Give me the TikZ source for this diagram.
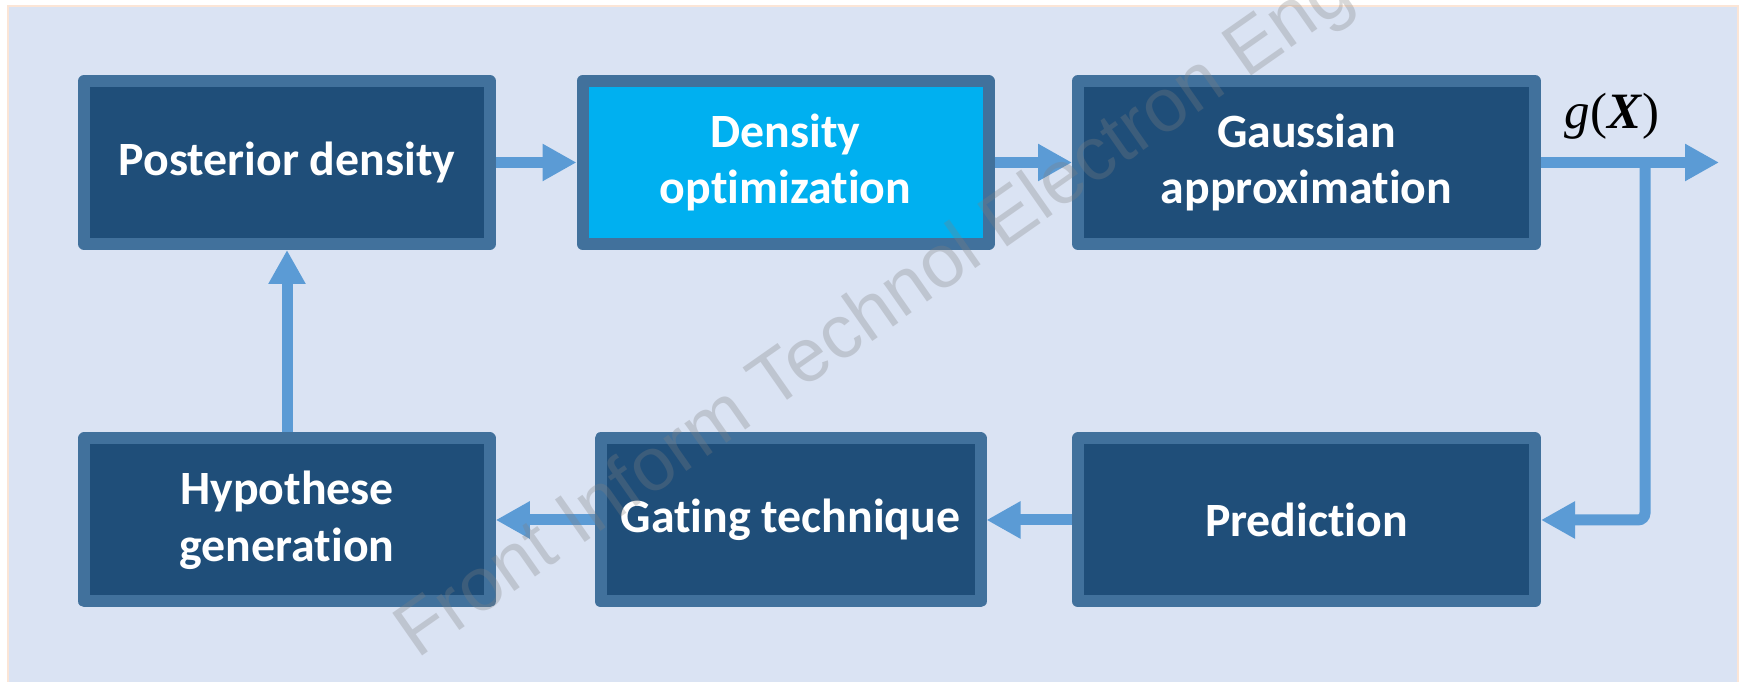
\documentclass[tikz,border=0pt]{standalone}
\usepackage{fontspec}
\setmainfont{Carlito}[Ligatures=NoCommon]
\newfontfamily\wmfont{Liberation Sans}
\newfontfamily\gxfont{Liberation Serif}
\usepackage{xcolor}
\usetikzlibrary{arrows.meta}

\definecolor{panelbg}{HTML}{DAE3F3}
\definecolor{panelrim}{HTML}{FBE5D6}
\definecolor{boxfill}{HTML}{1F4E79}
\definecolor{boxrim}{HTML}{41719C}
\definecolor{optfill}{HTML}{00B0F0}
\definecolor{flowcol}{HTML}{5B9BD5}

\tikzset{
	blk/.style={draw=boxrim, fill=boxfill, line width=0.12cm, line join=round, text=white,
		font=\fontsize{13.6}{16.2}\selectfont\bfseries, align=center, minimum height=1.63cm, inner sep=0pt},
	flow/.style={draw=flowcol, line width=0.11cm, -{Triangle[length=0.34cm, width=0.35cm]}}
}

\begin{document}
\begin{tikzpicture}
		\clip (0,0) rectangle (17.45,6.82);
		\fill[white] (0,0) rectangle (17.45,6.82);
		\draw[panelrim, fill=panelbg, line width=0.6pt] (0.08,-0.1) rectangle (17.38,6.76);
%		\draw[step=0.5cm, thin] (0,0) grid (17.45,6.82);
		\node[blk, minimum width=4.055cm] (post) at (2.87,5.195) {Posterior density};
		\node[blk, fill=optfill, minimum width=4.06cm] (dens) at (7.855,5.195) {Density\\optimization};
		\node[blk, minimum width=4.57cm] (gauss) at (13.065,5.195) {Gaussian\\approximation};
		\node[blk, minimum width=4.055cm] (hyp) at (2.87,1.62) {Hypothese\\generation};
		\node[blk, minimum width=3.80cm] (gate) at (7.905,1.62) {Gating technique};
		\node[blk, minimum width=4.57cm] (pred) at (13.065,1.62) {Prediction};
		\coordinate (out) at (17.19,5.195);
		\coordinate (split) at (16.45,5.195);
		\draw[flow] (post) -- (dens);
		\draw[flow] (dens) -- (gauss);
		\draw[flow] (gauss) -- (out);
		\draw[flow, rounded corners=2pt] (split) |- (pred);
		\draw[flow] (pred) -- (gate);
		\draw[flow] (gate) -- (hyp);
		\draw[flow] (hyp) -- (post);
		\node[font=\gxfont\fontsize{14.5}{16}\selectfont] (gx) at (16.12,5.66) {\textit{g}(\textbf{\textit{X}})};
		\node[font=\wmfont\fontsize{21.5}{24}\selectfont, text=gray, text opacity=0.3, rotate=35,
			anchor=base west, inner sep=0pt] (wm) at (4.17,0.22) {Front Inform Technol Electron Eng};
	\end{tikzpicture}
\end{document}
